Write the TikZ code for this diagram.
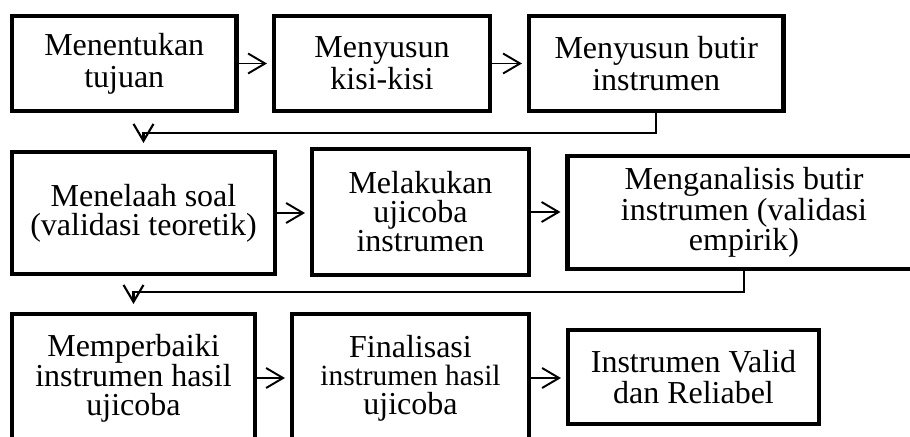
\documentclass[tikz,border=0pt]{standalone}
\usepackage{fontspec}
\setmainfont{Liberation Serif}
\usetikzlibrary{positioning,arrows.meta}

\begin{document}
\begin{tikzpicture}[
    % --- box styles ---
    box/.style={draw, line width=2.3pt, align=center, inner sep=0pt,
                font=\fontsize{18.2pt}{18pt}\selectfont},
    boxb/.style={box, font=\fontsize{18.2pt}{16.5pt}\selectfont},
    boxc/.style={box, font=\fontsize{18.2pt}{16.2pt}\selectfont},
    % --- arrow styles ---
    arr/.style={-{Straight Barb[length=3.4mm,width=4mm]}, line width=1.1pt, shorten >=1mm},
    link/.style={arr, line width=1.2pt},
]

%% =====================================================================
%%  FRAME (cm):  rows at y = 7.47 | 4.49 | 1.18
%% =====================================================================
\useasboundingbox (0,0) rectangle (18.2,8.74);
\clip (0,0) rectangle (18.2,8.74);

%% ---- ROW 1 ----
\node[box, minimum width=4.49cm, minimum height=1.90cm] (tujuan) at ( 2.485, 7.47)
    {Menentukan\\tujuan};
\node[box, minimum width=4.32cm, minimum height=1.90cm] (kisi) at ( 7.64, 7.47)
    {Menyusun\\kisi-kisi};
\node[box, minimum width=5.09cm, minimum height=1.89cm] (butir) at (13.125, 7.47)
    {Menyusun butir\\instrumen};

%% ---- ROW 2 ----
\node[boxb, minimum width=5.26cm, minimum height=2.44cm] (telaah) at ( 2.87, 4.48)
    {Menelaah soal\\(validasi teoretik)};
\node[boxb, minimum width=4.34cm, minimum height=2.52cm] (ujicoba) at ( 8.41, 4.50)
    {Melakukan\\ujicoba\\instrumen};
\node[boxb, minimum width=7.06cm, minimum height=2.26cm] (analisis) at (14.88, 4.49)
    {Menganalisis butir\\instrumen (validasi\\empirik)};

%% ---- ROW 3 (first two boxes run past the lower edge) ----
\node[boxc, minimum width=4.86cm, minimum height=2.56cm] (perbaiki) at ( 2.67, 1.18)
    {Memperbaiki\\instrumen hasil\\ujicoba};
\node[boxc, minimum width=4.74cm, minimum height=2.56cm] (final) at ( 8.21, 1.18)
    {Finalisasi\\{\fontsize{16.7pt}{16.2pt}\selectfont instrumen hasil}\\ujicoba};
\node[box, minimum width=5.02cm, minimum height=1.88cm] (valid) at (13.87, 1.20)
    {Instrumen Valid\\dan Reliabel};

%% =====================================================================
%%  ARROWS
%% =====================================================================

%% --- within rows ---
\draw[arr] (tujuan.east) -- (kisi.west);
\draw[arr] (kisi.east) -- (butir.west);
\draw[arr] (telaah.east) -- (telaah.east -| ujicoba.west);
\draw[arr] (ujicoba.east) -- (ujicoba.east -| analisis.west);
\draw[arr] (perbaiki.east) -- (final.west);
\draw[arr] (final.east) -- (final.east -| valid.west);

%% --- row to row ---
\draw[link, shorten >=1.4mm] (butir.south) -- ++(0,-0.40) -| (telaah.north);
\draw[link, shorten >=1.6mm] (analisis.south) -- ++(0,-0.42) -| (perbaiki.north);

\end{tikzpicture}
\end{document}
